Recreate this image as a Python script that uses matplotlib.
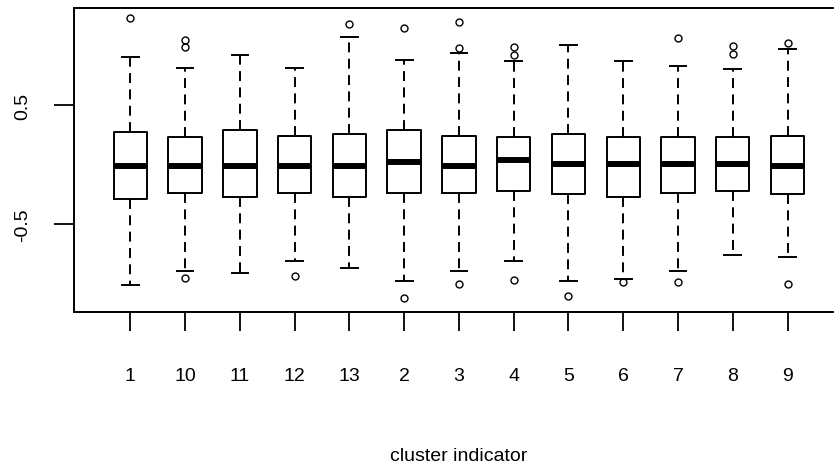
import matplotlib
matplotlib.use("Agg")
import matplotlib.pyplot as plt

plt.rcParams["font.family"] = ["Liberation Sans", "DejaVu Sans"]

# Groups in the order R sorts factor levels (character order)
clusters = ["1", "10", "11", "12", "13", "2", "3", "4", "5", "6", "7", "8", "9"]

# Five-number summaries per cluster
whisker_low = [-1.009, -0.892, -0.911, -0.808, -0.872, -0.981, -0.892, -0.808, -0.981, -0.961, -0.892, -0.758, -0.775]
q1 = [-0.285, -0.235, -0.268, -0.235, -0.268, -0.235, -0.235, -0.218, -0.249, -0.268, -0.235, -0.221, -0.249]
medians = [-0.006, -0.006, -0.006, -0.006, -0.006, 0.022, -0.006, 0.042, 0.008, 0.008, 0.008, 0.008, -0.006]
q3 = [0.277, 0.231, 0.296, 0.246, 0.260, 0.296, 0.246, 0.231, 0.260, 0.231, 0.231, 0.231, 0.246]
whisker_high = [0.905, 0.818, 0.922, 0.818, 1.073, 0.885, 0.941, 0.874, 1.011, 0.872, 0.835, 0.805, 0.975]

# Points beyond the whiskers
outliers = [
    [1.240],
    [1.050, 0.990, -0.950],
    [],
    [-0.934],
    [1.184],
    [1.153, -1.120],
    [1.201, 0.986, -1.003],
    [0.994, 0.925, -0.970],
    [-1.101],
    [-0.989],
    [1.070, -0.989],
    [1.003, 0.930],
    [1.023, -1.003],
]

y_ticks = [-0.5, 0.5]
y_tick_labels = ["-0.5", "0.5"]

stats = []
for name, lo, a, m, b, hi, fl in zip(clusters, whisker_low, q1, medians, q3,
                                     whisker_high, outliers):
    stats.append(dict(label=name, whislo=lo, q1=a, med=m, q3=b, whishi=hi,
                      fliers=fl))

fig = plt.figure(figsize=(8.34, 4.64), dpi=100)
# the plot region runs past the right edge of the image
ax = fig.add_axes([0.0893, 0.3265, 0.922, 0.654])

positions = list(range(1, len(clusters) + 1))
line_w = 1.4
ax.bxp(
    stats,
    positions=positions,
    widths=0.61,
    showfliers=True,
    boxprops=dict(color="black", linewidth=line_w),
    whiskerprops=dict(color="black", linewidth=line_w,
                      linestyle=(0, (5.1, 3.3))),
    capprops=dict(color="black", linewidth=line_w),
    medianprops=dict(color="black", linewidth=4.3, solid_capstyle="butt"),
    flierprops=dict(marker="o", markersize=5, markerfacecolor="none",
                    markeredgecolor="black", markeredgewidth=1.0,
                    linestyle="none"),
)

ax.set_xlim(-0.02, 14.02)
ax.set_ylim(-1.235, 1.32)

ax.set_xticks(positions)
ax.set_xticklabels(clusters, fontsize=14)
ax.set_yticks(y_ticks)
ax.set_yticklabels(y_tick_labels, fontsize=14, rotation=90, va="center")

ax.tick_params(axis="x", length=13.7, width=1.3, pad=26.5, color="black")
ax.tick_params(axis="y", length=14.5, width=1.3, pad=16.5, color="black")

for sp in ax.spines.values():
    sp.set_linewidth(1.4)
    sp.set_color("black")

ax.set_xlabel("cluster indicator", fontsize=14, labelpad=45)

fig.savefig("out.png", dpi=100)
